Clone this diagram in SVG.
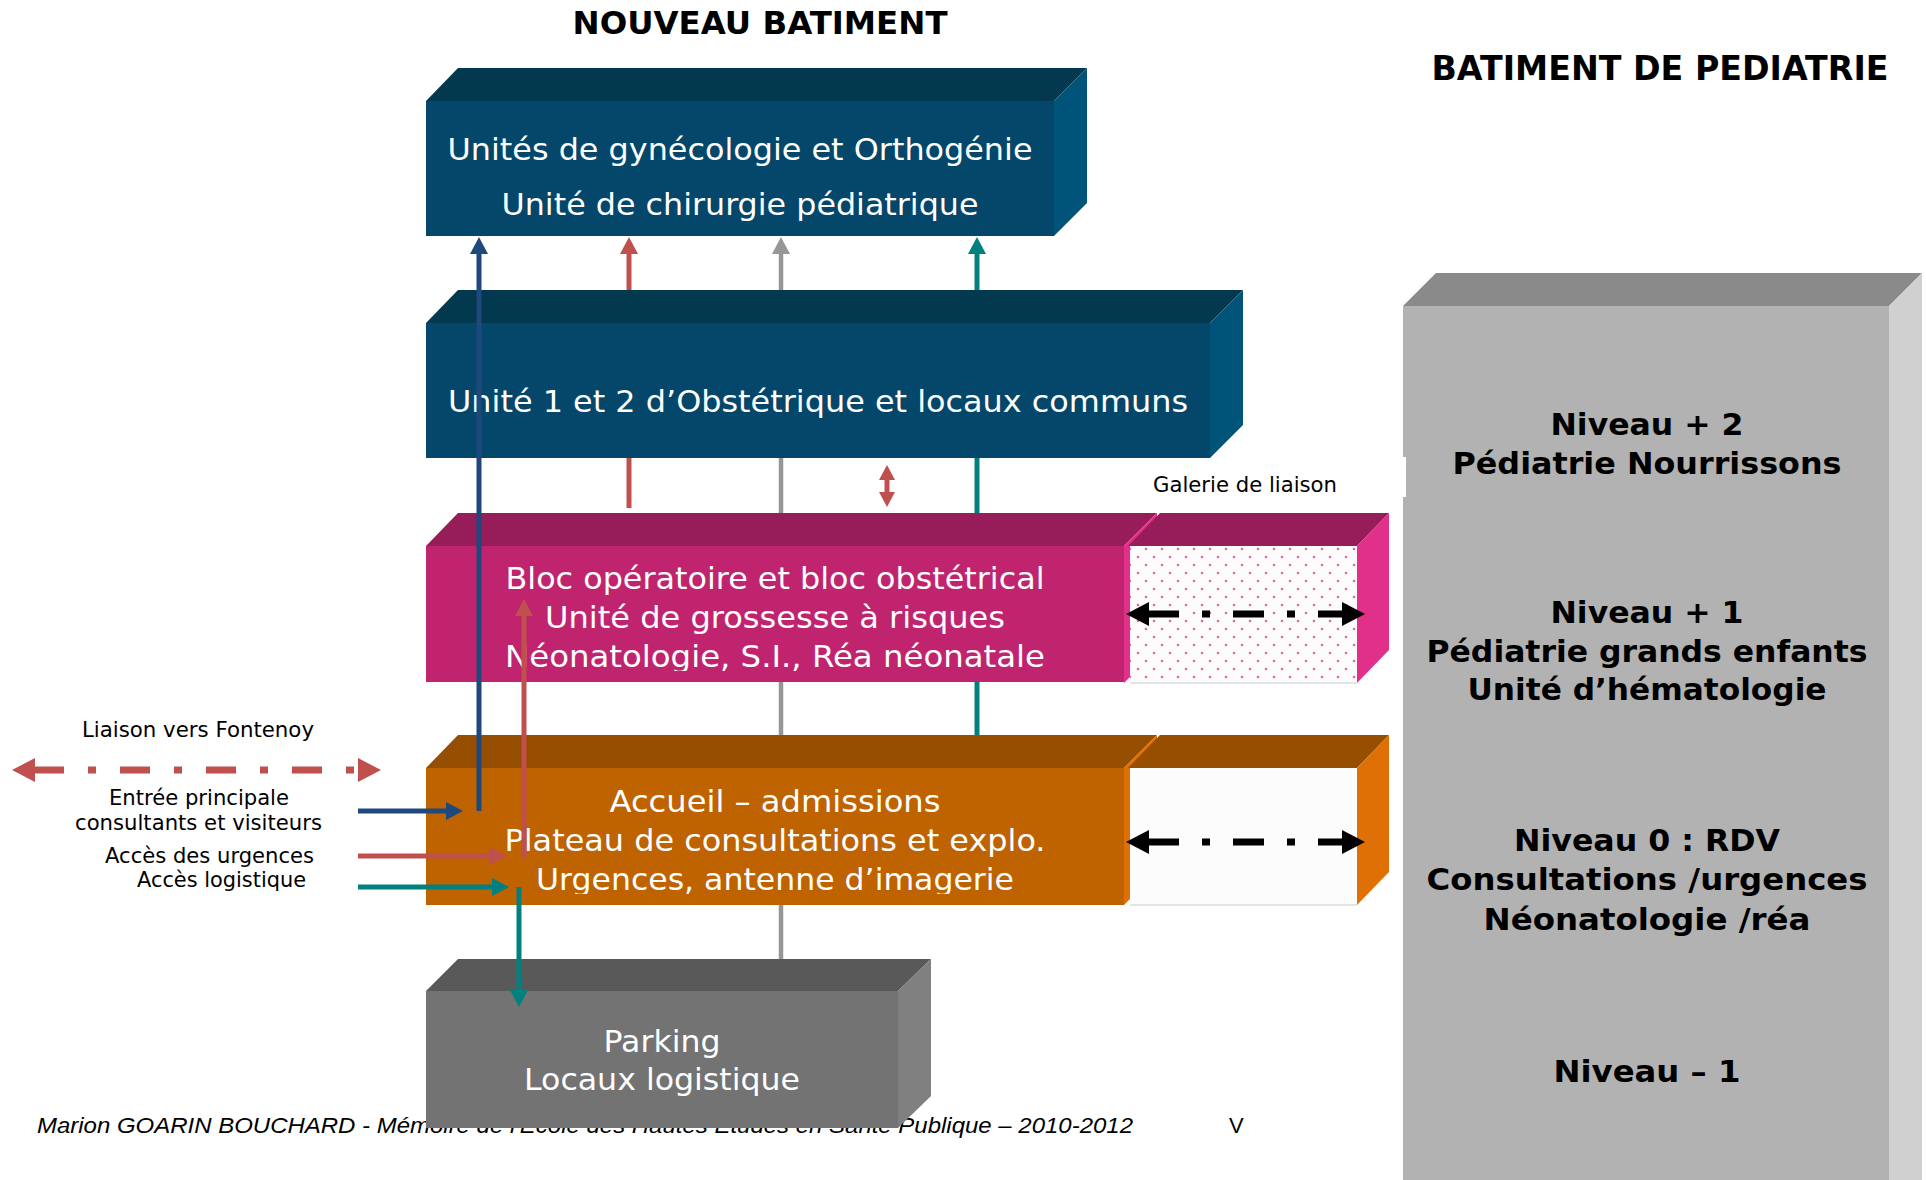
<svg xmlns="http://www.w3.org/2000/svg" width="1926" height="1180" viewBox="0 0 1926 1180">
<style>
.bt{font-family:"DejaVu Sans",Verdana,sans-serif;font-size:31px;fill:#ffffff;text-anchor:middle}
.pt{font-family:"DejaVu Sans",Verdana,sans-serif;font-weight:bold;font-size:31px;fill:#000000;text-anchor:middle}
.lbl{font-family:"DejaVu Sans",Verdana,sans-serif;font-size:21px;fill:#000000}
.ttl{font-family:"DejaVu Sans",Verdana,sans-serif;font-weight:bold;fill:#000000;text-anchor:middle}
.ft{font-family:"Liberation Sans",Arial,sans-serif;font-size:22px;fill:#000000}
.c-blue{stroke:#1f497d;stroke-width:5;fill:none}
.c-red{stroke:#c0504d;stroke-width:5;fill:none}
.c-gray{stroke:#969696;stroke-width:4.5;fill:none}
.c-teal{stroke:#00807f;stroke-width:5;fill:none}
.c-dd{stroke-width:7;fill:none;stroke-dasharray:31 23 8 23}
.dk-top{fill:#03394f}.dk-front{fill:#04476a}.dk-right{fill:#015479}
.mg-top{fill:#961d5a}.mg-front{fill:#c0246f}.mg-right{fill:#e0308a}
.or-top{fill:#964f00}.or-front{fill:#bf6200}.or-right{fill:#de7005}
</style>
<defs>
<marker id="ah-blue" viewBox="0 0 17 18" refX="1" refY="9" markerWidth="17" markerHeight="18" markerUnits="userSpaceOnUse" orient="auto-start-reverse"><path d="M0,0 L17,9 L0,18 Z" fill="#1f497d"/></marker>
<marker id="ah-red" viewBox="0 0 17 18" refX="1" refY="9" markerWidth="17" markerHeight="18" markerUnits="userSpaceOnUse" orient="auto-start-reverse"><path d="M0,0 L17,9 L0,18 Z" fill="#c0504d"/></marker>
<marker id="ah-red-s" viewBox="0 0 15 16" refX="1" refY="8" markerWidth="15" markerHeight="16" markerUnits="userSpaceOnUse" orient="auto-start-reverse"><path d="M0,0 L15,8 L0,16 Z" fill="#c0504d"/></marker>
<marker id="ah-gray" viewBox="0 0 17 18" refX="1" refY="9" markerWidth="17" markerHeight="18" markerUnits="userSpaceOnUse" orient="auto-start-reverse"><path d="M0,0 L17,9 L0,18 Z" fill="#969696"/></marker>
<marker id="ah-teal" viewBox="0 0 17 18" refX="1" refY="9" markerWidth="17" markerHeight="18" markerUnits="userSpaceOnUse" orient="auto-start-reverse"><path d="M0,0 L17,9 L0,18 Z" fill="#00807f"/></marker>
<marker id="ah-black" viewBox="0 0 23 24" refX="1" refY="12" markerWidth="23" markerHeight="24" markerUnits="userSpaceOnUse" orient="auto-start-reverse"><path d="M0,0 L23,12 L0,24 Z" fill="#000000"/></marker>
<marker id="ah-redbig" viewBox="0 0 23 24" refX="1" refY="12" markerWidth="23" markerHeight="24" markerUnits="userSpaceOnUse" orient="auto-start-reverse"><path d="M0,0 L23,12 L0,24 Z" fill="#c0504d"/></marker>
<pattern id="dots" x="1134" y="553" width="16" height="16" patternUnits="userSpaceOnUse">
<rect width="16" height="16" fill="#fcfcfc"/>
<circle cx="4" cy="4" r="1.3" fill="#f060a6"/>
<circle cx="12" cy="12" r="1.3" fill="#f060a6"/>
</pattern>
<clipPath id="clip-mag"><rect x="400" y="540" width="760" height="131"/></clipPath>
<clipPath id="clip-org"><rect x="400" y="760" width="760" height="134"/></clipPath>
</defs>

<rect width="1926" height="1180" fill="#ffffff"/>

<g id="footer">
<text class="ft" x="37" y="1133" font-style="italic" textLength="1096" lengthAdjust="spacingAndGlyphs">Marion GOARIN BOUCHARD - Mémoire de l'Ecole des Hautes Etudes en Santé Publique – 2010-2012</text>
<text class="ft" x="1229" y="1133">V</text>
</g>

<g id="titles">
<text class="ttl" x="760" y="34" font-size="32" textLength="375" lengthAdjust="spacingAndGlyphs">NOUVEAU BATIMENT</text>
<text class="ttl" x="1660" y="80" font-size="33" textLength="457" lengthAdjust="spacingAndGlyphs">BATIMENT DE PEDIATRIE</text>
</g>

<g id="pediatrie">
<polygon points="1403,306 1436,273 1922,273 1889,306" fill="#8a8a8a"/>
<polygon points="1889,306 1922,273 1922,1180 1889,1180" fill="#d0d0d0"/>
<rect x="1403" y="306" width="486" height="874" fill="#b2b2b2"/>
<rect x="1400" y="457" width="6" height="40" fill="#ffffff"/>
<text class="pt" x="1647" y="435" textLength="193" lengthAdjust="spacingAndGlyphs">Niveau + 2</text>
<text class="pt" x="1647" y="474" textLength="389" lengthAdjust="spacingAndGlyphs">Pédiatrie Nourrissons</text>
<text class="pt" x="1647" y="623" textLength="193" lengthAdjust="spacingAndGlyphs">Niveau + 1</text>
<text class="pt" x="1647" y="662" textLength="441" lengthAdjust="spacingAndGlyphs">Pédiatrie grands enfants</text>
<text class="pt" x="1647" y="700" textLength="359" lengthAdjust="spacingAndGlyphs">Unité d’hématologie</text>
<text class="pt" x="1647" y="851" textLength="266" lengthAdjust="spacingAndGlyphs">Niveau 0 : RDV</text>
<text class="pt" x="1647" y="890" textLength="441" lengthAdjust="spacingAndGlyphs">Consultations /urgences</text>
<text class="pt" x="1647" y="930" textLength="327" lengthAdjust="spacingAndGlyphs">Néonatologie /réa</text>
<text class="pt" x="1647" y="1082" textLength="187" lengthAdjust="spacingAndGlyphs">Niveau – 1</text>
</g>

<g id="gyneco">
<polygon class="dk-top" points="426,101 458,68 1087,68 1054,101"/>
<polygon class="dk-right" points="1054,101 1087,68 1087,203 1054,236"/>
<rect class="dk-front" x="426" y="101" width="628" height="135"/>
<text class="bt" x="740" y="160" textLength="585" lengthAdjust="spacingAndGlyphs">Unités de gynécologie et Orthogénie</text>
<text class="bt" x="740" y="215" textLength="477" lengthAdjust="spacingAndGlyphs">Unité de chirurgie pédiatrique</text>
</g>

<g id="obstetrique">
<polygon class="dk-top" points="426,323 458,290 1243,290 1210,323"/>
<polygon class="dk-right" points="1210,323 1243,290 1243,425 1210,458"/>
<rect class="dk-front" x="426" y="323" width="784" height="135"/>
<text class="bt" x="818" y="412" textLength="740" lengthAdjust="spacingAndGlyphs">Unité 1 et 2 d’Obstétrique et locaux communs</text>
</g>

<g id="bloc">
<polygon class="mg-top" points="426,546 458,513 1157,513 1124,546"/>
<polygon class="mg-right" points="1124,546 1157,513 1157,650 1124,683"/>
<rect class="mg-front" x="426" y="546" width="698" height="136"/>
<g clip-path="url(#clip-mag)">
<text class="bt" x="775" y="589" textLength="539" lengthAdjust="spacingAndGlyphs">Bloc opératoire et bloc obstétrical</text>
<text class="bt" x="775" y="628" textLength="460" lengthAdjust="spacingAndGlyphs">Unité de grossesse à risques</text>
<text class="bt" x="775" y="667" textLength="540" lengthAdjust="spacingAndGlyphs">Néonatologie, S.I., Réa néonatale</text>
</g>
</g>

<g id="galerie-1">
<polygon class="mg-top" points="1128,546 1160,513 1389,513 1357,546"/>
<polygon class="mg-right" points="1357,546 1389,513 1389,650 1357,683"/>
<rect x="1130" y="546" width="227" height="137" fill="url(#dots)"/>
<line x1="1130" y1="683" x2="1357" y2="683" stroke="#dddddd" stroke-width="1.5"/>
</g>

<g id="accueil">
<polygon class="or-top" points="426,768 458,735 1157,735 1124,768"/>
<polygon class="or-right" points="1124,768 1157,735 1157,872 1124,905"/>
<rect class="or-front" x="426" y="768" width="698" height="137"/>
<g clip-path="url(#clip-org)">
<text class="bt" x="775" y="812" textLength="331" lengthAdjust="spacingAndGlyphs">Accueil – admissions</text>
<text class="bt" x="775" y="851" textLength="541" lengthAdjust="spacingAndGlyphs">Plateau de consultations et explo.</text>
<text class="bt" x="775" y="890" textLength="478" lengthAdjust="spacingAndGlyphs">Urgences, antenne d’imagerie</text>
</g>
</g>

<g id="galerie-0">
<polygon class="or-top" points="1128,768 1160,735 1389,735 1357,768"/>
<polygon class="or-right" points="1357,768 1389,735 1389,872 1357,905"/>
<rect x="1130" y="768" width="227" height="137" fill="#fcfcfc"/>
<line x1="1130" y1="905" x2="1357" y2="905" stroke="#dddddd" stroke-width="1.5"/>
</g>

<g id="parking">
<polygon points="426,991 458,959 931,959 898,991" fill="#595959"/>
<polygon points="898,991 931,959 931,1096 898,1128" fill="#808080"/>
<rect x="426" y="991" width="472" height="137" fill="#737373"/>
<text class="bt" x="662" y="1052" textLength="117" lengthAdjust="spacingAndGlyphs">Parking</text>
<text class="bt" x="662" y="1090" textLength="276" lengthAdjust="spacingAndGlyphs">Locaux logistique</text>
</g>

<g id="connectors">
<line class="c-gray" x1="781" y1="290" x2="781" y2="253" marker-end="url(#ah-gray)"/>
<line class="c-gray" x1="781" y1="458" x2="781" y2="513"/>
<line class="c-gray" x1="781" y1="682" x2="781" y2="735"/>
<line class="c-gray" x1="781" y1="905" x2="781" y2="959"/>
<line class="c-teal" x1="977" y1="290" x2="977" y2="253" marker-end="url(#ah-teal)"/>
<line class="c-teal" x1="977" y1="458" x2="977" y2="513"/>
<line class="c-teal" x1="977" y1="682" x2="977" y2="735"/>
<line class="c-red" x1="629" y1="290" x2="629" y2="253" marker-end="url(#ah-red)"/>
<line class="c-red" x1="629" y1="458" x2="629" y2="508"/>
<line class="c-red" x1="887" y1="479" x2="887" y2="493" stroke-width="4" marker-start="url(#ah-red-s)" marker-end="url(#ah-red-s)"/>
<line class="c-blue" x1="479" y1="811" x2="479" y2="253" marker-end="url(#ah-blue)"/>
<line class="c-blue" x1="358" y1="811" x2="447" y2="811" marker-end="url(#ah-blue)"/>
<line class="c-red" x1="524" y1="858" x2="524" y2="615" marker-end="url(#ah-red)"/>
<line class="c-red" x1="358" y1="856" x2="491" y2="856" marker-end="url(#ah-red)"/>
<line class="c-teal" x1="358" y1="887" x2="493" y2="887" marker-end="url(#ah-teal)"/>
<line class="c-teal" x1="519" y1="887" x2="519" y2="991" marker-end="url(#ah-teal)"/>
<line class="c-dd" stroke="#000000" x1="1148" y1="614" x2="1343" y2="614" marker-start="url(#ah-black)" marker-end="url(#ah-black)"/>
<line class="c-dd" stroke="#000000" x1="1148" y1="842" x2="1343" y2="842" marker-start="url(#ah-black)" marker-end="url(#ah-black)"/>
<line class="c-dd" stroke="#c0504d" x1="34" y1="770" x2="359" y2="770" marker-start="url(#ah-redbig)" marker-end="url(#ah-redbig)" style="stroke-dasharray:30 24 8 24"/>
</g>

<g id="labels">
<text class="lbl" x="1153" y="492" textLength="184" lengthAdjust="spacingAndGlyphs">Galerie de liaison</text>
<text class="lbl" x="82" y="737" textLength="232" lengthAdjust="spacingAndGlyphs">Liaison vers Fontenoy</text>
<text class="lbl" x="109" y="805" textLength="180" lengthAdjust="spacingAndGlyphs">Entrée principale</text>
<text class="lbl" x="75" y="830" textLength="247" lengthAdjust="spacingAndGlyphs">consultants et visiteurs</text>
<text class="lbl" x="105" y="863" textLength="209" lengthAdjust="spacingAndGlyphs">Accès des urgences</text>
<text class="lbl" x="137" y="887" textLength="169" lengthAdjust="spacingAndGlyphs">Accès logistique</text>
</g>
</svg>
